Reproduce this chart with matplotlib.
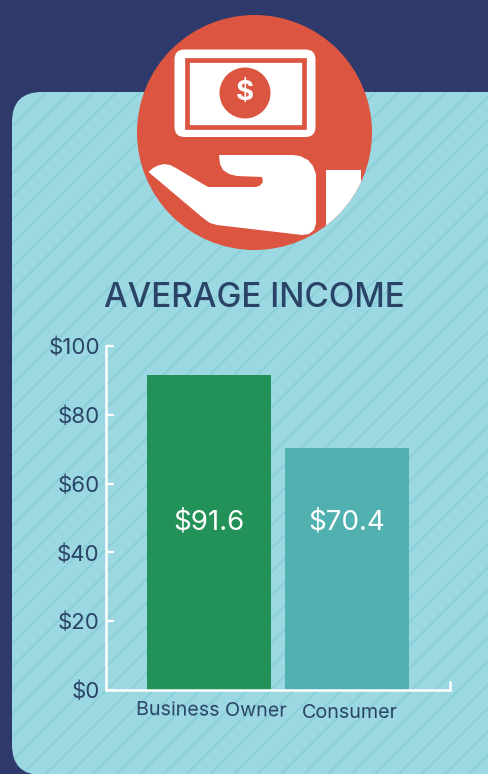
import numpy as np
import matplotlib
matplotlib.use('Agg')
import matplotlib.pyplot as plt
from matplotlib.patches import FancyBboxPatch, Circle, Polygon, Rectangle

categories = ['Business Owner', 'Consumer']
income = [91.6, 70.4]
value_labels = ['$91.6', '$70.4']
y_ticks = [0, 20, 40, 60, 80, 100]
y_tick_labels = ['$0', '$20', '$40', '$60', '$80', '$100']
bar_colors = ['#239259', '#50B1B0']

NAVY = '#2E3A6B'
PANEL = '#9CD8E2'
STRIPE = '#8AD0D8'
RED = '#DC5541'
INK = '#2A4468'
W, H = 488, 774
plt.rcParams['font.family'] = ['Inter', 'DejaVu Sans']

fig = plt.figure(figsize=(W/100, H/100), dpi=100, facecolor=NAVY)

#### background panel and icon, drawn in pixel coordinates
bg = fig.add_axes([0, 0, 1, 1])
bg.set_xlim(0, W)
bg.set_ylim(H, 0)
bg.axis('off')
panel = FancyBboxPatch((42, 122), 446, 623, boxstyle='round,pad=30,rounding_size=30',
                       fc=PANEL, ec='none')
bg.add_patch(panel)
for x0 in np.arange(-800, 1300, 23.5):
    ln, = bg.plot([x0, x0+900], [H, H-900], color=STRIPE, lw=1.5)
    ln.set_clip_path(panel)

bg.add_patch(Circle((254.5, 132.5), 117.5, fc=RED, ec='none', zorder=3))
bill = FancyBboxPatch((184.5, 59.5), 121, 67.5, boxstyle='round,pad=10,rounding_size=10',
                      fc='white', ec='none', zorder=4)
bg.add_patch(bill)
bg.add_patch(Rectangle((186.5, 59.7), 117, 67.2, fc='white', ec=RED, lw=3.4, zorder=5))
bg.add_patch(Circle((245, 93), 25.5, fc=RED, ec='none', zorder=6))
bg.text(245, 93, '$', color='white', fontsize=20, fontweight='bold', ha='center', va='center', zorder=7)

hand = [(148.5, 172), (153, 168), (158, 165.5), (164, 164), (170, 165), (175, 167.5), (208, 187),
        (256, 187), (260, 185.5), (263, 182), (262, 177), (237, 176), (229, 174), (223, 170), (220, 164),
        (219, 155), (293, 155), (300, 156), (308, 160), (313, 166), (316, 174), (316, 223), (314, 230),
        (309, 234), (302, 235), (217, 225), (210, 223), (203, 218)]
bg.add_patch(Polygon(hand, closed=True, fc='white', ec='none', zorder=4))
sleeve = Rectangle((326, 169.5), 35, 70, fc='white', ec='none', zorder=4)
bg.add_patch(sleeve)
sleeve.set_clip_path(Circle((254.5, 132.5), 117.5, transform=bg.transData))

bg.text(254, 298, 'AVERAGE INCOME', color=INK, fontsize=24, ha='center', va='center', fontweight='medium')

#### bar chart, axes span x 106-450 and y 346-690 px
ax = fig.add_axes([106/W, 1-690/H, 344/W, 344/H])
ax.patch.set_alpha(0)
xpos = np.arange(len(categories))
bars = ax.bar(xpos, income, width=0.9, color=bar_colors, zorder=2)
ax.set_xlim(-103/138, 241/138)
ax.set_ylim(0, 100)
for b, lab in zip(bars, value_labels):
    ax.text(b.get_x()+b.get_width()/2, 48.6, lab, color='white', fontsize=20, ha='center', va='center')

for side in ('top', 'right'):
    ax.spines[side].set_visible(False)
for side in ('left', 'bottom'):
    ax.spines[side].set_color('white')
    ax.spines[side].set_linewidth(1.8)
    ax.spines[side].set_zorder(3)
ax.set_yticks(y_ticks)
ax.set_yticklabels(y_tick_labels, fontsize=16, color=INK)
ax.tick_params(axis='y', direction='in', length=6, width=1.6, color='white', pad=4.5)
ax.set_xticks([])
ax.plot([1, 1], [0, 0.024], transform=ax.transAxes, color='white', lw=1.8, clip_on=False)

# the two category labels do not sit on one baseline in the original
bg.text(211, 710.5, categories[0], color=INK, fontsize=14.2, ha='center', va='center', rotation=-0.6)
bg.text(350, 713, categories[1], color=INK, fontsize=14.2, ha='center', va='center')

fig.savefig('out.png', dpi=100, facecolor=NAVY)
